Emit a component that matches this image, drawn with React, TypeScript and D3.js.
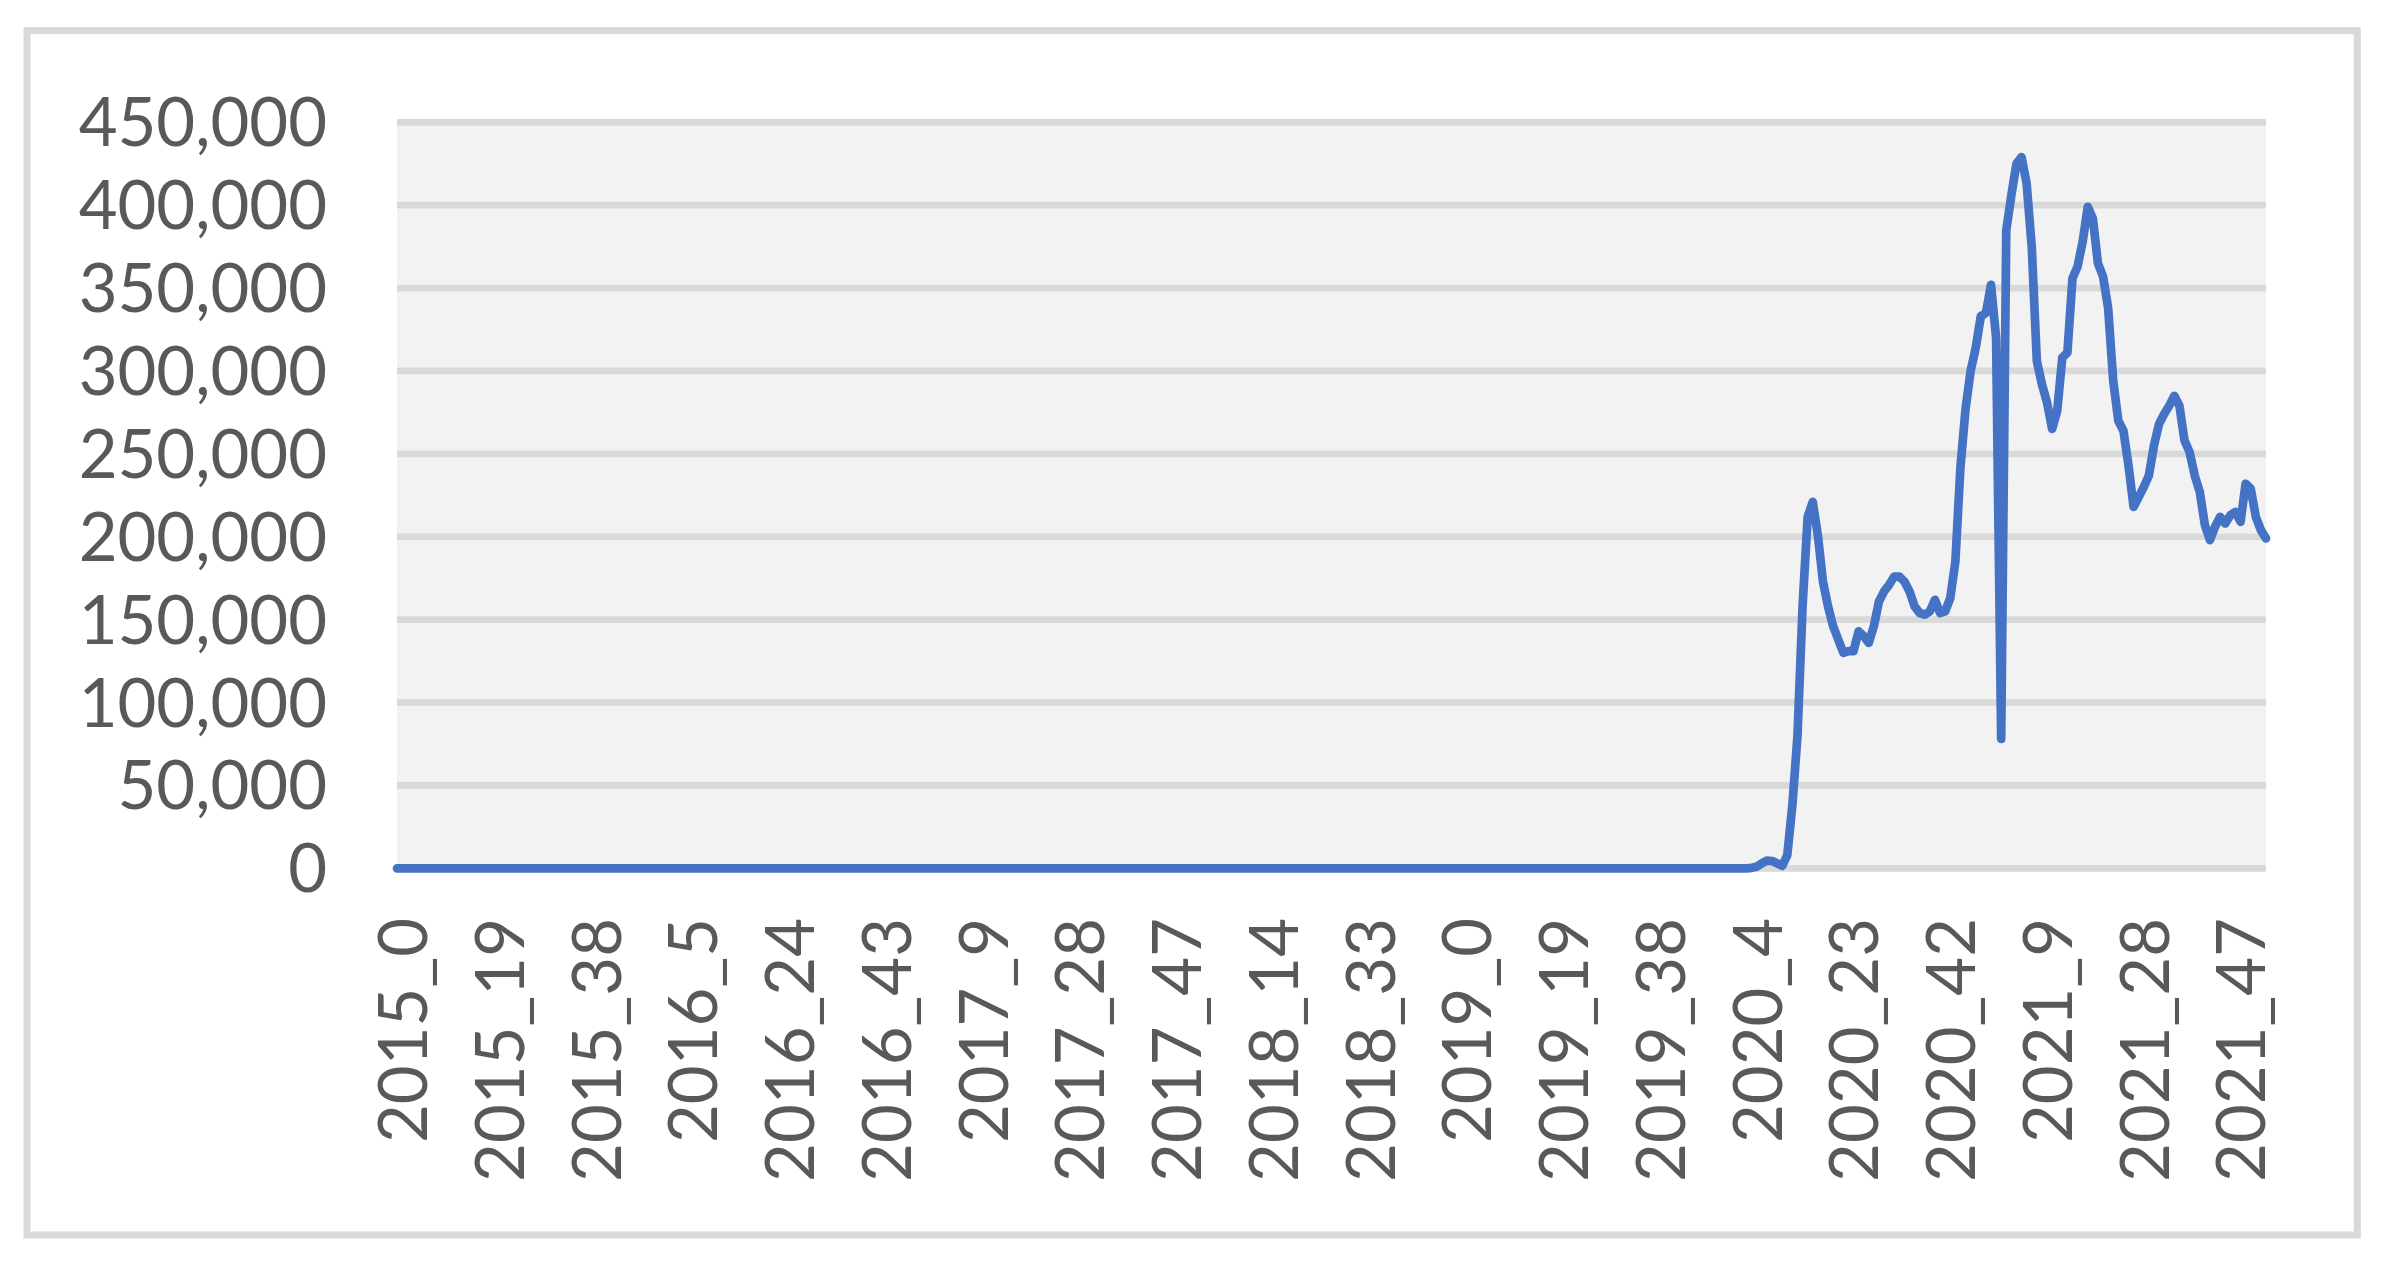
import React from "react";
import * as d3 from "d3";

// weekly values, one array per year (week 0 first)
const w2015 = [
  0, 0, 0, 0, 0, 0, 0, 0, 0, 0, 0, 0, 0, 0, 0, 0, 0, 0, 0, 0, 0, 0, 0, 0, 0, 0,
  0, 0, 0, 0, 0, 0, 0, 0, 0, 0, 0, 0, 0, 0, 0, 0, 0, 0, 0, 0, 0, 0, 0, 0, 0, 0,
];
const w2016 = [
  0, 0, 0, 0, 0, 0, 0, 0, 0, 0, 0, 0, 0, 0, 0, 0, 0, 0, 0, 0, 0, 0, 0, 0, 0, 0,
  0, 0, 0, 0, 0, 0, 0, 0, 0, 0, 0, 0, 0, 0, 0, 0, 0, 0, 0, 0, 0, 0, 0, 0, 0, 0, 0,
];
const w2017 = [
  0, 0, 0, 0, 0, 0, 0, 0, 0, 0, 0, 0, 0, 0, 0, 0, 0, 0, 0, 0, 0, 0, 0, 0, 0, 0,
  0, 0, 0, 0, 0, 0, 0, 0, 0, 0, 0, 0, 0, 0, 0, 0, 0, 0, 0, 0, 0, 0, 0, 0, 0, 0,
];
const w2018 = [
  0, 0, 0, 0, 0, 0, 0, 0, 0, 0, 0, 0, 0, 0, 0, 0, 0, 0, 0, 0, 0, 0, 0, 0, 0, 0,
  0, 0, 0, 0, 0, 0, 0, 0, 0, 0, 0, 0, 0, 0, 0, 0, 0, 0, 0, 0, 0, 0, 0, 0, 0, 0,
];
const w2019 = [
  0, 0, 0, 0, 0, 0, 0, 0, 0, 0, 0, 0, 0, 0, 0, 0, 0, 0, 0, 0, 0, 0, 0, 0, 0, 0,
  0, 0, 0, 0, 0, 0, 0, 0, 0, 0, 0, 0, 0, 0, 0, 0, 0, 0, 0, 0, 0, 0, 0, 0, 0, 0, 0,
];
const w2020 = [
  0, 0, 0, 0, 300, 1000, 3000, 4600, 4400, 3000, 1500, 8000, 38000, 80000,
  158000, 212000, 221000, 201000, 173000, 158000, 146000, 138000, 130000, 131000,
  131000, 143000, 140000, 136000, 146000, 161000, 167000, 171000, 176000, 176000,
  173000, 167000, 158000, 154000, 153000, 155000, 162000, 154000, 155000, 163000,
  185000, 242000, 277000, 300000, 314000, 333000, 335000, 352000,
];
const w2021 = [
  320000, 78000, 385000, 406000, 425000, 429000, 413000, 375000, 306000, 292000,
  281000, 265000, 276000, 308000, 311000, 356000, 363000, 378000, 399000, 392000,
  365000, 357000, 338000, 294000, 270000, 264000, 243000, 218000, 224000, 230000,
  237000, 255000, 268000, 274000, 279000, 285000, 279000, 258000, 251000, 237000,
  227000, 207000, 198000, 206000, 212000, 208000, 213000, 215000, 209000, 232000,
  229000, 212000, 204000, 199000,
];

const years = [2015, 2016, 2017, 2018, 2019, 2020, 2021];
const yearValues = [w2015, w2016, w2017, w2018, w2019, w2020, w2021];

// categories like "2020_23"
const categories = years.flatMap((yr, k) => yearValues[k].map((_, wk) => `${yr}_${wk}`));
const values = yearValues.flat();

const labelStep = 19; // a label every 19 weeks
const yMax = 450000;

export default function App() {
  const width = 2384;
  const height = 1267;
  const plot = { left: 397, right: 2266, top: 122.3, bottom: 868.3 };
  const font = "Lato, 'Open Sans', sans-serif";

  const x = d3.scalePoint<string>().domain(categories).range([plot.left, plot.right]).padding(0);
  const y = d3.scaleLinear().domain([0, yMax]).range([plot.bottom, plot.top]);
  const yTicks = y.ticks(9);
  const fmt = d3.format(",");

  const line = d3
    .line<number>()
    .x((_, i) => x(categories[i]) as number)
    .y((d) => y(d));

  const xLabels = categories.filter((_, i) => i % labelStep === 0);

  return (
    <svg
      width={width}
      height={height}
      style={{ position: "absolute", left: 0, top: 0, background: "#fff" }}
    >
      {/* chart frame */}
      <rect x={27} y={30.7} width={2330.3} height={1204.3} fill="#fff" stroke="#d9d9d9" strokeWidth={7} />

      {/* plot background */}
      <rect
        x={plot.left}
        y={plot.top - 3.3}
        width={plot.right - plot.left}
        height={plot.bottom - plot.top + 6.6}
        fill="#f2f2f2"
      />

      {/* gridlines */}
      {yTicks.map((t) => (
        <line key={t} x1={plot.left} x2={plot.right} y1={y(t)} y2={y(t)} stroke="#d9d9d9" strokeWidth={6.7} />
      ))}

      {/* y labels */}
      {yTicks.map((t) => (
        <text
          key={"l" + t}
          x={327}
          y={y(t) + 24}
          textAnchor="end"
          fontFamily={font}
          fontSize={67}
          fill="#595959"
        >
          {fmt(t)}
        </text>
      ))}

      {/* x labels */}
      {xLabels.map((c) => (
        <text
          key={c}
          transform={`translate(${(x(c) as number) + 30},918) rotate(-90)`}
          textAnchor="end"
          fontFamily={font}
          fontSize={67}
          fill="#595959"
        >
          {c}
        </text>
      ))}

      {/* series */}
      <path
        d={line(values) ?? ""}
        fill="none"
        stroke="#4472c4"
        strokeWidth={8.7}
        strokeLinejoin="round"
        strokeLinecap="round"
      />
    </svg>
  );
}
